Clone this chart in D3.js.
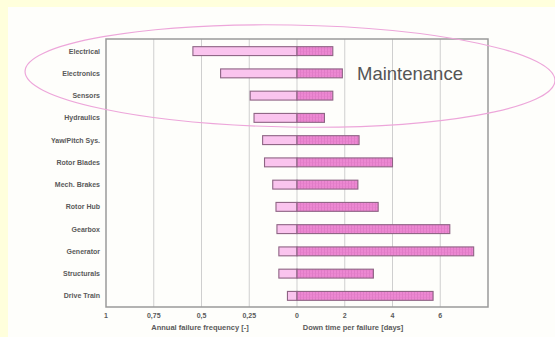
<!DOCTYPE html>
<html>
<head>
<meta charset="utf-8">
<script src="https://cdn.jsdelivr.net/npm/d3@7"></script>
<style>
  body { margin: 0; background: #ffffdc; }
  svg { display: block; font-family: "Liberation Sans", Arial, sans-serif; }
</style>
</head>
<body>
<svg id="chart"></svg>
<script>
const components = ["Electrical", "Electronics", "Sensors", "Hydraulics", "Yaw/Pitch Sys.",
    "Rotor Blades", "Mech. Brakes", "Rotor Hub", "Gearbox", "Generator", "Structurals", "Drive Train"];
const failureFreq = [0.545, 0.40, 0.245, 0.225, 0.18, 0.17, 0.127, 0.11, 0.105, 0.095, 0.095, 0.05];
const downTime = [1.5, 1.9, 1.5, 1.15, 2.6, 4.0, 2.55, 3.4, 6.4, 7.4, 3.2, 5.7];
const freqTicks = [1, 0.75, 0.5, 0.25];
const dayTicks = [0, 2, 4, 6];

const W = 555, H = 337;
const svg = d3.select("svg#chart").attr("width", W).attr("height", H);

const defs = svg.append("defs");
let pat = defs.append("pattern")
    .attr("id", "hatch")
    .attr("patternUnits", "userSpaceOnUse")
    .attr("width", 3).attr("height", 3);
pat.append("rect").attr("width", 3).attr("height", 3).attr("fill", "#ec88d2");
pat.append("line").attr("x1", 0.5).attr("x2", 0.5).attr("y1", 0).attr("y2", 3)
    .attr("stroke", "#d973c0").attr("stroke-width", 0.6);
pat.append("line").attr("x1", 0).attr("x2", 3).attr("y1", 0.5).attr("y2", 0.5)
    .attr("stroke", "#e27cc8").attr("stroke-width", 0.4);

// page background: yellow strip top/left, white rest
svg.append("rect").attr("x", 8).attr("y", 7).attr("width", W - 8).attr("height", H - 7)
    .attr("fill", "#fefefb");

const pLeft = 106, pRight = 488, pTop = 39, pBottom = 307, mid = 297;

let xf = d3.scaleLinear().domain([1, 0]).range([pLeft, mid]);
let xd = d3.scaleLinear().domain([0, 8]).range([mid, pRight]);
let y = d3.scaleBand().domain(components).range([pTop + 1, pBottom])
    .paddingInner(0.6).paddingOuter(0.3);

// grid
let g = svg.append("g");
g.selectAll(".gf").data(freqTicks.slice(1)).enter().append("line")
    .attr("x1", d => xf(d)).attr("x2", d => xf(d))
    .attr("y1", pTop).attr("y2", pBottom)
    .attr("stroke", "#cfcfcf").attr("stroke-width", 1);
g.selectAll(".gd").data(dayTicks).enter().append("line")
    .attr("x1", d => xd(d)).attr("x2", d => xd(d))
    .attr("y1", pTop).attr("y2", pBottom)
    .attr("stroke", "#cfcfcf").attr("stroke-width", 1);

// bars
svg.selectAll(".bf").data(components).enter().append("rect")
    .attr("x", (d, i) => xf(failureFreq[i]))
    .attr("y", d => y(d))
    .attr("width", (d, i) => mid - xf(failureFreq[i]))
    .attr("height", y.bandwidth())
    .attr("fill", "#fac4ee")
    .attr("stroke", "#8e6484").attr("stroke-width", 1.1);
svg.selectAll(".bd").data(components).enter().append("rect")
    .attr("x", mid)
    .attr("y", d => y(d))
    .attr("width", (d, i) => xd(downTime[i]) - mid)
    .attr("height", y.bandwidth())
    .attr("fill", "url(#hatch)")
    .attr("stroke", "#8e6484").attr("stroke-width", 1.1);

// frame
svg.append("rect").attr("x", pLeft).attr("y", pTop)
    .attr("width", pRight - pLeft).attr("height", pBottom - pTop)
    .attr("fill", "none").attr("stroke", "#9a9a9a").attr("stroke-width", 1.5);

// category labels
svg.selectAll(".lab").data(components).enter().append("text")
    .attr("x", 100).attr("y", d => y(d) + y.bandwidth() / 2 + 2.5)
    .attr("text-anchor", "end")
    .attr("font-size", 7).attr("font-weight", "bold").attr("fill", "#5a5a5a")
    .text(d => d);

// tick labels
const fmt = d => String(d).replace(".", ",");
svg.selectAll(".tf").data(freqTicks.concat([0])).enter().append("text")
    .attr("x", d => xf(d)).attr("y", 318)
    .attr("text-anchor", "middle")
    .attr("font-size", 7).attr("font-weight", "bold").attr("fill", "#5a5a5a")
    .text(fmt);
svg.selectAll(".td").data(dayTicks.slice(1)).enter().append("text")
    .attr("x", d => xd(d)).attr("y", 318)
    .attr("text-anchor", "middle")
    .attr("font-size", 7).attr("font-weight", "bold").attr("fill", "#5a5a5a")
    .text(fmt);

svg.append("text").attr("x", 200).attr("y", 330).attr("text-anchor", "middle")
    .attr("font-size", 7.5).attr("font-weight", "bold").attr("fill", "#5a5a5a")
    .text("Annual failure frequency [-]");
svg.append("text").attr("x", 353).attr("y", 330).attr("text-anchor", "middle")
    .attr("font-size", 7.5).attr("font-weight", "bold").attr("fill", "#5a5a5a")
    .text("Down time per failure [days]");

// maintenance highlight
svg.append("ellipse")
    .attr("cx", 290).attr("cy", 76).attr("rx", 265).attr("ry", 51)
    .attr("transform", "rotate(1 290 76)")
    .attr("fill", "none").attr("stroke", "#eda6da").attr("stroke-width", 1.2);
svg.append("text").attr("x", 357).attr("y", 80)
    .attr("font-size", 18.5).attr("fill", "#555")
    .text("Maintenance");
</script>
</body>
</html>
